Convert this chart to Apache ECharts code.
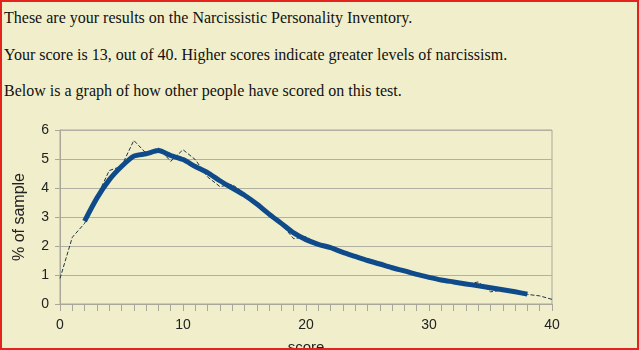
<!DOCTYPE html>
<html>
<head>
<meta charset="utf-8">
<script src="https://cdn.jsdelivr.net/npm/echarts@6/dist/echarts.min.js"></script>
<style>
html,body{margin:0;padding:0;}
body{width:639px;height:350px;overflow:hidden;background:#F1EFCB;}
#frame{position:absolute;left:0;top:0;width:639px;height:350px;box-sizing:border-box;border:2px solid #E3231E;z-index:5;pointer-events:none;}
.t{position:absolute;left:4px;margin:0;font-family:"Liberation Serif","Times New Roman",serif;font-size:16px;color:#111;white-space:nowrap;line-height:18px;}
#chart{position:absolute;left:0;top:0;width:639px;height:350px;}
</style>
</head>
<body>
<p class="t" style="top:9px">These are your results on the Narcissistic Personality Inventory.</p>
<p class="t" style="top:46px">Your score is 13, out of 40. Higher scores indicate greater levels of narcissism.</p>
<p class="t" style="top:82px">Below is a graph of how other people have scored on this test.</p>
<div id="chart"></div>
<div id="frame"></div>
<script>
// raw distribution (dashed), scores 0..40
var rawScores = [0,1,2,3,4,5,6,7,8,9,10,11,12,13,14,15,16,17,18,19,20,21,22,23,24,25,26,27,28,29,30,31,32,33,34,35,36,37,38,39,40];
var rawPct = [0.88,2.3,2.78,3.7,4.6,4.75,5.64,5.2,5.38,4.92,5.32,4.98,4.38,4.05,4.12,3.82,3.5,3.1,2.75,2.25,2.32,2.05,1.94,1.78,1.64,1.5,1.38,1.25,1.13,1.0,0.9,0.82,0.75,0.68,0.76,0.42,0.48,0.4,0.33,0.28,0.16];
// smoothed distribution (thick), scores 2..38
var smoothScores = [2,3,4,5,6,7,8,9,10,11,12,13,14,15,16,17,18,19,20,21,22,23,24,25,26,27,28,29,30,31,32,33,34,35,36,37,38];
var smoothPct = [2.86,3.65,4.28,4.74,5.1,5.18,5.29,5.12,4.98,4.74,4.53,4.25,4.0,3.75,3.45,3.1,2.78,2.45,2.22,2.06,1.94,1.78,1.64,1.5,1.38,1.25,1.14,1.02,0.92,0.83,0.76,0.69,0.63,0.56,0.49,0.42,0.34];
var xTicks = [0,10,20,30,40];
var yTicks = [0,1,2,3,4,5,6];

function pairs(xs, ys){ return xs.map(function(x,i){ return [x, ys[i]]; }); }

var chart = echarts.init(document.getElementById('chart'), null, {renderer:'canvas'});
chart.setOption({
  backgroundColor:'transparent',
  animation:false,
  grid:{left:60, right:87, top:130, bottom:46, containLabel:false, outerBoundsMode:'none',
        show:true, borderColor:'#A9A79A', borderWidth:1, backgroundColor:'transparent'},
  xAxis:{
    type:'value', min:xTicks[0], max:xTicks[xTicks.length-1], interval:10,
    name:'score', nameLocation:'middle', nameGap:36,
    nameTextStyle:{fontFamily:'Liberation Sans', fontSize:15, color:'#222'},
    axisLine:{show:true, lineStyle:{color:'#A9A79A', width:1}},
    axisTick:{show:true, length:7, lineStyle:{color:'#A9A79A'}},
    minorTick:{show:true, splitNumber:10, length:7, lineStyle:{color:'#A9A79A'}},
    splitLine:{show:false},
    axisLabel:{fontFamily:'Liberation Sans', fontSize:14, color:'#222', margin:14}
  },
  yAxis:{
    type:'value', min:yTicks[0], max:yTicks[yTicks.length-1], interval:1,
    name:'% of sample', nameLocation:'middle', nameGap:32, nameRotate:90,
    nameTextStyle:{fontFamily:'Liberation Sans', fontSize:16, color:'#222'},
    axisLine:{show:true, lineStyle:{color:'#A9A79A', width:1}},
    axisTick:{show:true, length:5, lineStyle:{color:'#A9A79A'}},
    splitLine:{show:true, lineStyle:{color:'#B2B0A2', width:1}},
    axisLabel:{fontFamily:'Liberation Sans', fontSize:14, color:'#222', margin:11}
  },
  series:[
    {type:'line', data:pairs(rawScores, rawPct), symbol:'none', smooth:false,
     lineStyle:{color:'#1C3548', width:1, type:[4,2]}, z:2},
    {type:'line', data:pairs(smoothScores, smoothPct), symbol:'none', smooth:0.25,
     lineStyle:{color:'#0F4A8A', width:5, cap:'butt', join:'round'}, z:3}
  ]
});
</script>
</body>
</html>
